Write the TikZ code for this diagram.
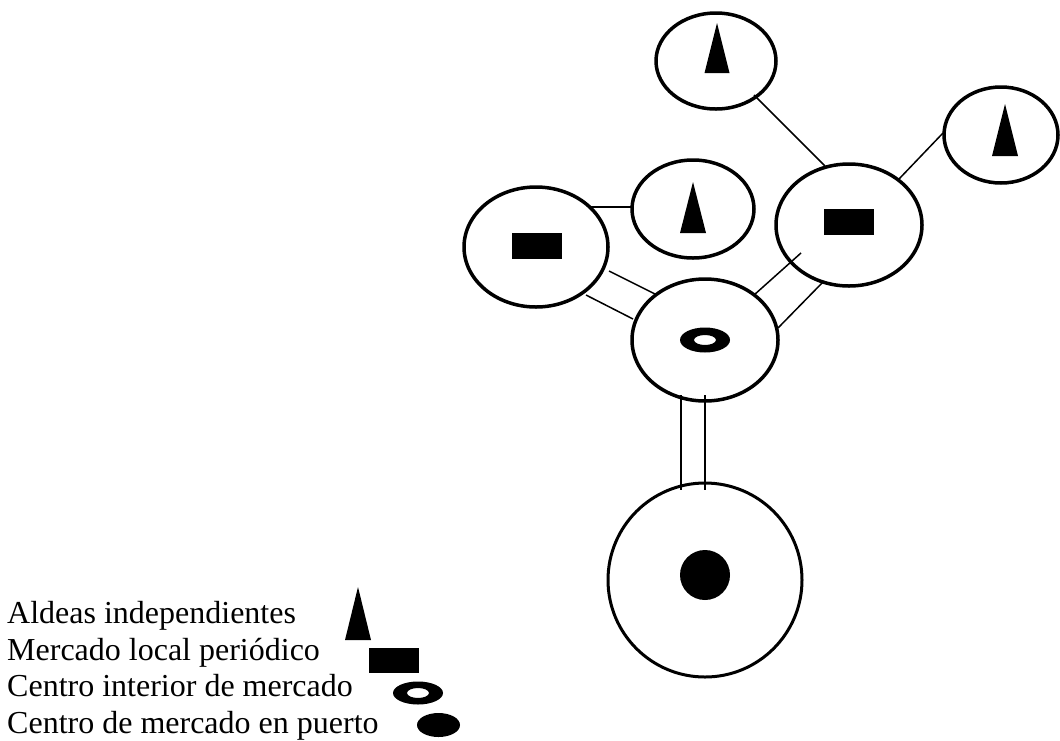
\documentclass[tikz,border=0pt]{standalone}
\usepackage{fontspec}
\setmainfont{Liberation Serif}
\usetikzlibrary{shapes.geometric}
\begin{document}
\begin{tikzpicture}[x=1pt,y=-1pt,
  place/.style={draw, line width=3.5pt, ellipse, inner sep=0pt},
  link/.style={line width=1.5pt},
  legendtext/.style={anchor=base west, inner sep=0pt, font=\fontsize{32}{36.5}\selectfont}
]
\useasboundingbox (0,0) rectangle (1060,740);
% places
\node[place, minimum width=120pt, minimum height=96pt] (A1) at (716,61) {};
\node[place, minimum width=114pt, minimum height=96pt] (A2) at (1001,135) {};
\node[place, minimum width=122pt, minimum height=98pt] (A3) at (693,209) {};
\node[place, minimum width=144pt, minimum height=120pt] (M1) at (536,247) {};
\node[place, minimum width=146pt, minimum height=122pt] (M2) at (849,225) {};
\node[place, minimum width=146pt, minimum height=122pt] (C) at (705,340) {};
\node[draw, circle, line width=3pt, inner sep=0pt, minimum size=194pt] (P) at (705,580) {};
% symbols in places
\fill (A1.center) ++(1,-38) -- ++(12.5,50) -- ++(-25,0) -- cycle;
\fill (A2.center) ++(4,-31) -- ++(13,52) -- ++(-26,0) -- cycle;
\fill (A3.center) ++(0,-27) -- ++(13,51) -- ++(-26,0) -- cycle;
\fill (M1.center) ++(-24,-14) rectangle ++(50,26);
\fill (M2.center) ++(-25,-16) rectangle ++(50,26);
\fill[even odd rule] (C.center) ellipse [x radius=25pt, y radius=12.5pt]
      (C.center) ellipse [x radius=11pt, y radius=5pt];
\fill (P.center) ++(0,-5) circle [radius=25pt];
% connector ends
\coordinate (a1s) at (754,95);  \coordinate (m2a) at (825,166);
\coordinate (a2s) at (943,133); \coordinate (m2b) at (899,179);
\coordinate (m1a) at (590,207); \coordinate (a3s) at (632,207);
\coordinate (m1b) at (609,271); \coordinate (ca) at (657,295);
\coordinate (m1c) at (586,295); \coordinate (cb) at (633,319);
\coordinate (m2c) at (801,253); \coordinate (cc) at (754,295);
\coordinate (m2d) at (823,282); \coordinate (cd) at (778,328);
\coordinate (cl) at (681,395);  \coordinate (pl) at (681,490);
\coordinate (cr) at (705,395);  \coordinate (pr) at (705,490);
% connectors
\draw[link] (a1s) -- (m2a);
\draw[link] (a2s) -- (m2b);
\draw[link] (m1a) -- (a3s);
\draw[link] (m1b) -- (ca);
\draw[link] (m1c) -- (cb);
\draw[link] (m2c) -- (cc);
\draw[link] (m2d) -- (cd);
\draw[link] (cl) -- (pl);
\draw[link] (cr) -- (pr);
% legend
\node[legendtext] (L1) at (7,623.5) {Aldeas independientes};
\node[legendtext] (L2) at (7,660) {Mercado local periódico};
\node[legendtext] (L3) at (7,696.5) {Centro interior de mercado};
\node[legendtext] (L4) at (7,733) {Centro de mercado en puerto};
\fill (358,587) -- (371,640) -- (345,640) -- cycle;
\fill (369,648) rectangle (419,673);
\fill[even odd rule] (418,693) ellipse [x radius=25pt, y radius=11.5pt]
      (418,693) ellipse [x radius=11pt, y radius=5pt];
\fill (438.5,725) ellipse [x radius=21.5pt, y radius=12pt];
\end{tikzpicture}
\end{document}
